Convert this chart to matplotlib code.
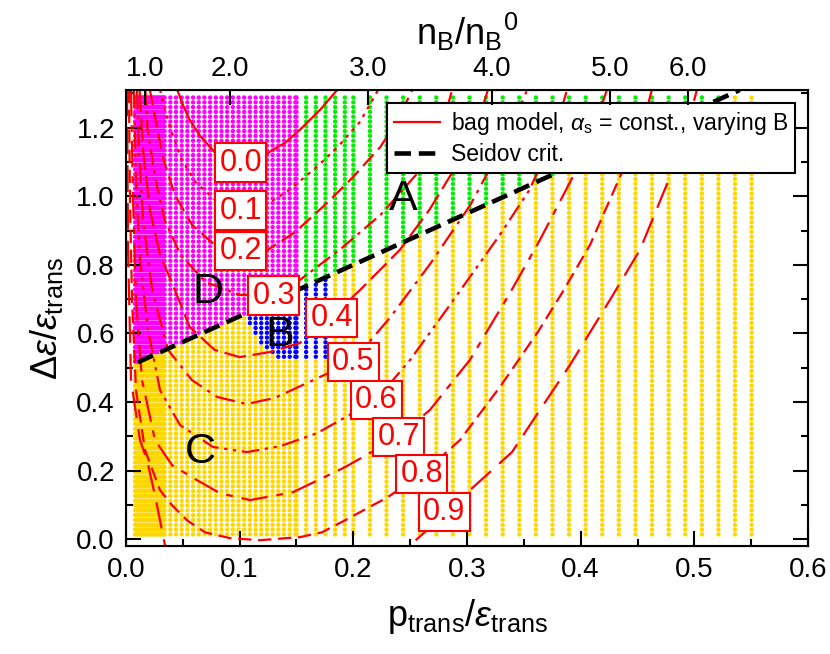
import numpy as np
import matplotlib
matplotlib.use("Agg")
import matplotlib.pyplot as plt
from matplotlib.ticker import MultipleLocator, FormatStrFormatter

plt.rcParams['font.family'] = ['Liberation Sans', 'DejaVu Sans']
plt.rcParams['mathtext.fontset'] = 'custom'
plt.rcParams['mathtext.rm'] = 'Liberation Sans'
plt.rcParams['mathtext.it'] = 'Liberation Sans:italic'
plt.rcParams['mathtext.fallback'] = 'stixsans'

# --- scan grid: p_trans/eps_trans columns (start, stop, step) and delta-eps rows
col_segments = [(0.008, 0.034, 0.0012), (0.034, 0.15, 0.0050),
                (0.15, 0.20, 0.0085), (0.20, 0.556, 0.0146)]
row_step = 0.014
row_max = 1.30

# Seidov criterion line
seidov_p = [0.0105, 0.54]
seidov_de = [0.516, 1.31]

# region boundaries
da_edge = 0.152                     # D | A above the Seidov line
b_edge_p = [0.105, 0.115, 0.13, 0.178]
b_edge_de = [0.66, 0.58, 0.53, 0.53]

# bag model curves, one per label
curve_labels = ['0.0', '0.1', '0.2', '0.3', '0.4', '0.5', '0.6', '0.7', '0.8', '0.9']
curve_p = [
    [0.045, 0.050, 0.056, 0.065, 0.080, 0.101, 0.122, 0.140, 0.153, 0.171, 0.186],
    [0.030, 0.034, 0.041, 0.049, 0.061, 0.078, 0.101, 0.122, 0.144, 0.169, 0.188, 0.206, 0.222],
    [0.021, 0.026, 0.033, 0.043, 0.058, 0.078, 0.101, 0.122, 0.149, 0.177, 0.200, 0.224, 0.239, 0.252],
    [0.017, 0.019, 0.026, 0.034, 0.048, 0.070, 0.100, 0.127, 0.153, 0.188, 0.224, 0.259, 0.276, 0.287],
    [0.012, 0.015, 0.021, 0.030, 0.043, 0.056, 0.078, 0.100, 0.127, 0.153, 0.180, 0.206, 0.241,
     0.267, 0.294, 0.310, 0.3185],
    [0.0097, 0.0114, 0.015, 0.023, 0.037, 0.058, 0.080, 0.106, 0.131, 0.159, 0.199, 0.232, 0.267,
     0.303, 0.329, 0.342, 0.353],
    [0.0070, 0.0088, 0.0123, 0.0194, 0.0299, 0.0475, 0.0765, 0.1064, 0.1355, 0.168, 0.220, 0.250,
     0.285, 0.329, 0.355, 0.377, 0.388],
    [0.0044, 0.0062, 0.0088, 0.0141, 0.0255, 0.0405, 0.0625, 0.0827, 0.1091, 0.1469, 0.1927, 0.2393,
     0.2674, 0.3026, 0.3378, 0.3642, 0.3950, 0.4126, 0.4232],
    [0.0026, 0.0035, 0.0053, 0.0088, 0.0167, 0.0299, 0.0405, 0.0537, 0.0695, 0.0915, 0.1179, 0.1531,
     0.1724, 0.1927, 0.2305, 0.2604, 0.2938, 0.3290, 0.3625, 0.3836, 0.4082, 0.4346, 0.4522, 0.4627],
    [0.0009, 0.0018, 0.0044, 0.0123, 0.0185, 0.0229, 0.0273, 0.0299, 0.0343, 0.144, 0.2498, 0.2648,
     0.2798, 0.3026, 0.3396, 0.3642, 0.3906, 0.4258, 0.4522, 0.4786, 0.4918, 0.5023],
]
curve_de = [
    [1.311, 1.267, 1.223, 1.177, 1.121, 1.101, 1.121, 1.156, 1.194, 1.253, 1.311],
    [1.311, 1.253, 1.180, 1.107, 1.042, 0.990, 0.961, 0.973, 1.019, 1.089, 1.150, 1.218, 1.311],
    [1.311, 1.223, 1.107, 1.004, 0.917, 0.858, 0.835, 0.838, 0.896, 0.981, 1.057, 1.145, 1.223, 1.311],
    [1.311, 1.194, 1.048, 0.931, 0.829, 0.750, 0.712, 0.712, 0.756, 0.844, 0.946, 1.077, 1.180, 1.311],
    [1.311, 1.136, 0.961, 0.829, 0.727, 0.619, 0.552, 0.531, 0.546, 0.572, 0.645, 0.727, 0.844,
     0.961, 1.107, 1.223, 1.311],
    [1.311, 1.136, 0.931, 0.727, 0.552, 0.464, 0.415, 0.394, 0.412, 0.455, 0.517, 0.645, 0.800,
     0.975, 1.136, 1.223, 1.311],
    [1.311, 1.048, 0.815, 0.610, 0.435, 0.333, 0.269, 0.254, 0.271, 0.309, 0.406, 0.523,
     0.683, 0.888, 1.019, 1.180, 1.311],
    [1.311, 0.990, 0.698, 0.464, 0.289, 0.216, 0.172, 0.134, 0.114, 0.137, 0.210, 0.298,
     0.377, 0.523, 0.718, 0.873, 1.069, 1.209, 1.311],
    [1.311, 0.990, 0.698, 0.435, 0.260, 0.143, 0.099, 0.055, 0.020, 0.003, -0.003, 0.006,
     0.020, 0.055, 0.123, 0.190, 0.289, 0.444, 0.605, 0.718, 0.858, 1.057, 1.180, 1.311],
    [1.311, 0.844, 0.464, 0.289, 0.231, 0.166, 0.099, 0.055, -0.018, -0.24, -0.018, 0.026,
     0.079, 0.143, 0.254, 0.377, 0.508, 0.698, 0.844, 1.057, 1.180, 1.311],
]
label_p = [0.101, 0.101, 0.101, 0.130, 0.181, 0.200, 0.220, 0.240, 0.260, 0.280]
label_de = [1.098, 0.958, 0.841, 0.710, 0.645, 0.517, 0.406, 0.298, 0.190, 0.079]

# region letters
region_names = ['A', 'B', 'C', 'D']
region_p = [0.244, 0.1355, 0.065, 0.072]
region_de = [0.993, 0.596, 0.254, 0.721]

# upper axis n_B/n_B^0
nb_tick_p = [0.0167, 0.0915, 0.213, 0.322, 0.426, 0.494]
nb_tick_labels = ['1.0', '2.0', '3.0', '4.0', '5.0', '6.0']

col_yellow = '#FFD700'
col_magenta = '#FF00FF'
col_green = '#00F000'
col_blue = '#0000FF'

line_styles = ['-', (0, (1.5, 2.5)), (0, (7, 3)), (0, (7, 2.5, 1.5, 2.5)), (0, (10, 3)),
               (0, (9, 3, 1.5, 3)), (0, (8, 2.5, 1.5, 2.5, 1.5, 2.5)), (0, (12, 4, 3, 4)),
               (0, (6, 3)), (0, (12, 5))]

fig = plt.figure(figsize=(8.3, 6.54), dpi=100)
ax = fig.add_axes([0.1518, 0.1651, 0.8217, 0.6973])

# dots of the scan
cols = np.concatenate([np.arange(a, b, s) for a, b, s in col_segments])
rows = np.arange(row_step, row_max, row_step)
P, D = np.meshgrid(cols, rows)
P = P.ravel()
D = D.ravel()
above = D > np.interp(P, seidov_p, seidov_de)
in_b = (~above) & (P >= b_edge_p[0]) & (P <= b_edge_p[-1]) & (D >= np.interp(P, b_edge_p, b_edge_de))
colors = np.where(above, np.where(P < da_edge, col_magenta, col_green),
                  np.where(in_b, col_blue, col_yellow))
ax.scatter(P, D, s=10, c=colors, marker='o', linewidths=0, zorder=1)

# bag model curves
for i in range(len(curve_labels)):
    ax.plot(curve_p[i], curve_de[i], color='red', lw=1.6, ls=line_styles[i], zorder=2,
            label=r'bag model, $\alpha_{\rm s}$ = const., varying B' if i == 0 else None)
    ax.text(label_p[i], label_de[i], curve_labels[i], color='red', fontsize=22,
            ha='center', va='center', zorder=5,
            bbox=dict(boxstyle='square,pad=0.14', fc='white', ec='red', lw=1.5))

ax.plot(seidov_p, seidov_de, color='black', lw=3.3, dashes=(3.6, 1.7), zorder=4,
        label='Seidov crit.')

for name, x, y in zip(region_names, region_p, region_de):
    ax.text(x, y, name, fontsize=31, ha='center', va='center', zorder=6)

ax.set_xlim(0, 0.6)
ax.set_ylim(-0.02, 1.31)
ax.xaxis.set_major_locator(MultipleLocator(0.1))
ax.xaxis.set_minor_locator(MultipleLocator(0.05))
ax.yaxis.set_major_locator(MultipleLocator(0.2))
ax.yaxis.set_minor_locator(MultipleLocator(0.1))
ax.xaxis.set_major_formatter(FormatStrFormatter('%.1f'))
ax.yaxis.set_major_formatter(FormatStrFormatter('%.1f'))
ax.tick_params(which='major', direction='in', length=11, width=1.5, top=False, right=True,
               labelsize=20, pad=8)
ax.tick_params(which='minor', direction='in', length=5, width=1.5, top=False, right=True)
for s in ax.spines.values():
    s.set_linewidth(1.5)
ax.set_xlabel(r'p$_{\rm trans}$/$\epsilon_{\rm trans}$', fontsize=26, labelpad=10)
ax.set_ylabel(r'$\Delta\epsilon$/$\epsilon_{\rm trans}$', fontsize=26, labelpad=8)

leg = ax.legend(loc='upper right', bbox_to_anchor=(0.981, 0.971), fontsize=16.5,
                frameon=True, fancybox=False, framealpha=1, edgecolor='black',
                handlelength=2.0, handletextpad=0.5, borderpad=0.3, labelspacing=0.25,
                borderaxespad=0)
leg.get_frame().set_linewidth(1.5)
leg.set_zorder(10)

ax2 = ax.twiny()
ax2.set_xlim(ax.get_xlim())
ax2.set_xticks(nb_tick_p)
ax2.set_xticklabels(nb_tick_labels)
ax2.tick_params(direction='in', length=11, width=1.5, labelsize=20, pad=6)
ax2.set_xlabel(r'n$_{\rm B}$/n$_{\rm B}{}^{0}$', fontsize=26, labelpad=8)

fig.savefig('out.png', dpi=100)
